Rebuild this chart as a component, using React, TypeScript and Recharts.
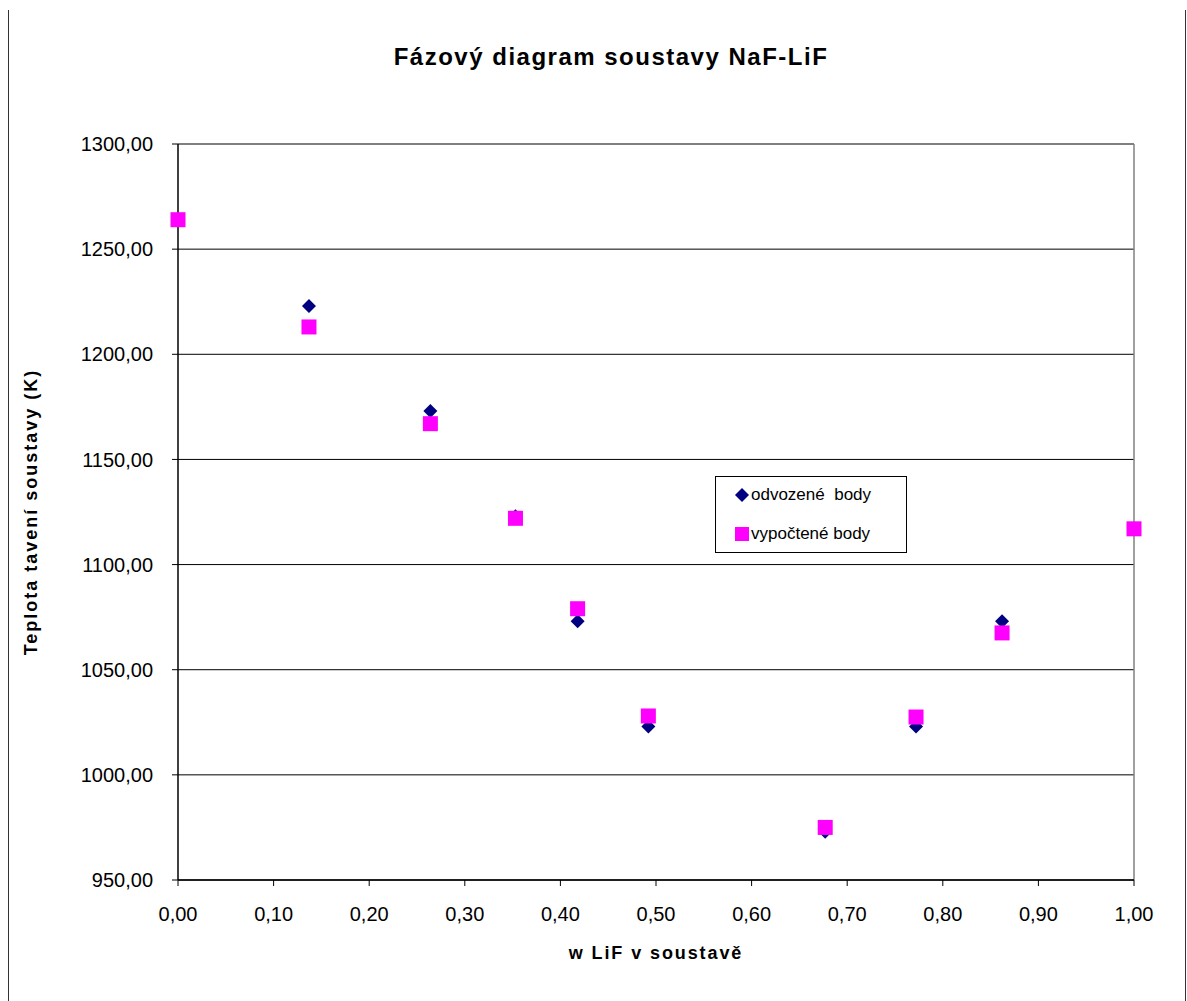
import React from 'react'
import { ScatterChart, Scatter, XAxis, YAxis, CartesianGrid, ReferenceLine, Label } from 'recharts'

// odvozené body (derived points)
const xDerived = [0.137, 0.264, 0.353, 0.418, 0.492, 0.677, 0.772, 0.862]
const tDerived = [1223, 1173, 1123, 1073, 1023, 973, 1023, 1073]

// vypočtené body (calculated points)
const xCalc = [0, 0.137, 0.264, 0.353, 0.418, 0.492, 0.677, 0.772, 0.862, 1.0]
const tCalc = [1264, 1213, 1167, 1122, 1079, 1028, 975, 1027.5, 1067.5, 1117]

const xTicks = [0, 0.1, 0.2, 0.3, 0.4, 0.5, 0.6, 0.7, 0.8, 0.9, 1.0]
const yTicks = [950, 1000, 1050, 1100, 1150, 1200, 1250, 1300]

const derived = xDerived.map((x, i) => ({ x, y: tDerived[i] }))
const calc = xCalc.map((x, i) => ({ x, y: tCalc[i] }))

const FONT = '"Liberation Sans", Arial, sans-serif'
const NAVY = '#000080'
const MAGENTA = '#FF00FF'

const fmt = (v: number) => v.toFixed(2).replace('.', ',')

const Diamond = (p: any) => {
  const { cx, cy } = p
  return <polygon points={`${cx},${cy - 7} ${cx + 7},${cy} ${cx},${cy + 7} ${cx - 7},${cy}`} fill={NAVY} />
}

const Square = (p: any) => {
  const { cx, cy } = p
  return <rect x={cx - 7.5} y={cy - 7.5} width={15} height={15} fill={MAGENTA} />
}

const tickStyle = { fontSize: 20, fill: '#000', fontFamily: FONT }

export default function App() {
  return (
    <div style={{ position: 'absolute', left: 0, top: 0, width: 1187, height: 1001, background: '#fff', fontFamily: FONT }}>
      <div style={{ position: 'absolute', left: 8, top: 10, width: 1178, height: 991, boxSizing: 'border-box', borderLeft: '1px solid #333', borderRight: '1px solid #333' }} />
      <div style={{ position: 'absolute', left: 611, top: 43, transform: 'translateX(-50%)', whiteSpace: 'nowrap', fontSize: 24, fontWeight: 'bold', letterSpacing: 1.5, color: '#000' }}>
        Fázový diagram soustavy NaF-LiF
      </div>
      <ScatterChart width={1187} height={1001} margin={{ top: 144, right: 53, left: 0, bottom: 0 }}>
        <CartesianGrid vertical={false} stroke="#000" strokeWidth={1} />
        <ReferenceLine y={1300} stroke="#808080" strokeWidth={1.5} />
        <ReferenceLine x={1} stroke="#808080" strokeWidth={1.5} />
        <XAxis
          type="number"
          dataKey="x"
          domain={[0, 1]}
          ticks={xTicks}
          tickFormatter={fmt}
          tick={tickStyle}
          tickSize={6}
          tickMargin={21}
          height={121}
          axisLine={{ stroke: '#000', strokeWidth: 1.5 }}
          tickLine={{ stroke: '#000' }}
          interval={0}
        >
          <Label
            value="w LiF v soustavě"
            position="insideBottom"
            offset={42}
            style={{ fontSize: 18, fontWeight: 'bold', fill: '#000', fontFamily: FONT, letterSpacing: 1.9 }}
          />
        </XAxis>
        <YAxis
          type="number"
          dataKey="y"
          domain={[950, 1300]}
          ticks={yTicks}
          tickFormatter={fmt}
          tick={tickStyle}
          tickSize={6}
          tickMargin={19}
          width={178}
          axisLine={{ stroke: '#000', strokeWidth: 1.5 }}
          tickLine={{ stroke: '#000' }}
          interval={0}
        >
          <Label
            content={({ viewBox }: any) => {
              const cx = viewBox.x + 31
              const cy = viewBox.y + viewBox.height / 2
              return (
                <text
                  x={cx}
                  y={cy}
                  transform={`rotate(-90 ${cx} ${cy})`}
                  textAnchor="middle"
                  dominantBaseline="central"
                  style={{ fontSize: 18, fontWeight: 'bold', fill: '#000', fontFamily: FONT, letterSpacing: 2 }}
                >
                  Teplota tavení soustavy (K)
                </text>
              )
            }}
          />
        </YAxis>
        <Scatter name="odvozené  body" data={derived} shape={Diamond} isAnimationActive={false} />
        <Scatter name="vypočtené body" data={calc} shape={Square} isAnimationActive={false} />
      </ScatterChart>
      <div style={{ position: 'absolute', left: 715, top: 476, width: 192, height: 77, boxSizing: 'border-box', border: '1px solid #000', background: '#fff', fontSize: 17, color: '#000' }}>
        <div style={{ position: 'absolute', left: 19, top: 8, display: 'flex', alignItems: 'center', whiteSpace: 'pre' }}>
          <svg width={14} height={14} style={{ marginRight: 2 }}>
            <polygon points="7,0 14,7 7,14 0,7" fill={NAVY} />
          </svg>
          {'odvozené  body'}
        </div>
        <div style={{ position: 'absolute', left: 19, top: 47, display: 'flex', alignItems: 'center', whiteSpace: 'pre' }}>
          <svg width={14} height={14} style={{ marginRight: 2 }}>
            <rect x={0} y={0} width={14} height={14} fill={MAGENTA} />
          </svg>
          {'vypočtené body'}
        </div>
      </div>
    </div>
  )
}
